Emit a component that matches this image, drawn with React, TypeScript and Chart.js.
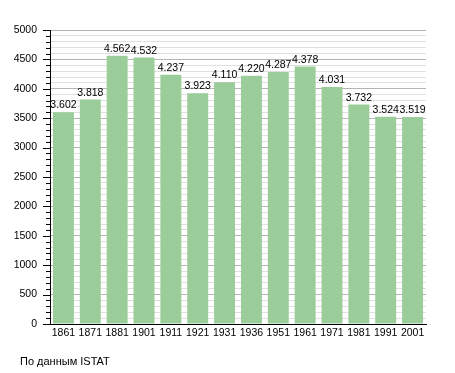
import React, { useEffect, useRef } from "react";
import { Chart, registerables } from "chart.js";

Chart.register(...registerables);

const categories = ["1861", "1871", "1881", "1901", "1911", "1921", "1931", "1936", "1951", "1961", "1971", "1981", "1991", "2001"];
const population = [3602, 3818, 4562, 4532, 4237, 3923, 4110, 4220, 4287, 4378, 4031, 3732, 3524, 3519];
const yMax = 5000;
const yStep = 100;
const yLabelStep = 500;
const sourceText = "По данным ISTAT";

const FONT = "'Liberation Sans', Arial, sans-serif";

function fmt(v: number): string {
  const th = Math.floor(v / 1000);
  const rest = String(v % 1000).padStart(3, "0");
  return th > 0 ? th + "." + rest : String(v);
}

const extrasPlugin = {
  id: "extras",
  afterDatasetsDraw(chart: any) {
    const ctx = chart.ctx;
    const meta = chart.getDatasetMeta(0);
    ctx.save();
    ctx.fillStyle = "#000";
    ctx.font = "10.5px " + FONT;
    ctx.textAlign = "center";
    ctx.textBaseline = "alphabetic";
    meta.data.forEach((bar: any, i: number) => {
      ctx.fillText(fmt(population[i]), bar.x, bar.y - 4);
    });
    ctx.restore();
  },
  afterDraw(chart: any) {
    const ctx = chart.ctx;
    const y = chart.scales.y;
    const left = chart.chartArea.left;
    ctx.save();
    ctx.strokeStyle = "#000";
    ctx.lineWidth = 1;
    for (let v = 0; v <= yMax; v += yStep) {
      const py = Math.round(y.getPixelForValue(v)) + 0.5;
      const len = v % yLabelStep === 0 ? 7 : 4;
      ctx.beginPath();
      ctx.moveTo(left - len, py);
      ctx.lineTo(left, py);
      ctx.stroke();
    }
    ctx.restore();
  },
};

export default function App() {
  const ref = useRef<HTMLCanvasElement | null>(null);
  useEffect(() => {
    if (!ref.current) return;
    const chart = new Chart(ref.current, {
      type: "bar",
      data: {
        labels: categories,
        datasets: [
          {
            data: population,
            backgroundColor: "#9acd9a",
            borderWidth: 0,
            barPercentage: 0.78,
            categoryPercentage: 1,
          },
        ],
      },
      options: {
        responsive: false,
        animation: false,
        devicePixelRatio: 1,
        layout: { padding: { top: 30, right: 29, left: 0, bottom: 29 } },
        plugins: {
          legend: { display: false },
          tooltip: { enabled: false },
          title: { display: false },
        },
        scales: {
          x: {
            grid: { display: false, drawTicks: false },
            border: { color: "#000", width: 1 },
            ticks: {
              color: "#000",
              font: { family: FONT, size: 10.5 },
              padding: 3,
              maxRotation: 0,
              autoSkip: false,
            },
            afterFit(scale: any) {
              scale.height = 20;
            },
          },
          y: {
            min: 0,
            max: yMax,
            border: { color: "#000", width: 1 },
            grid: {
              drawTicks: false,
              color: (c: any) => {
                const v = c.tick ? c.tick.value : 0;
                return v % yLabelStep === 0 ? "#b4b4b4" : "#e0e0e0";
              },
            },
            ticks: {
              stepSize: yStep,
              autoSkip: false,
              color: "#000",
              font: { family: FONT, size: 10.5 },
              padding: 13,
              callback: (v: any) => (Number(v) % yLabelStep === 0 ? String(v) : ""),
            },
            afterFit(scale: any) {
              scale.width = 50;
            },
          },
        },
      },
      plugins: [extrasPlugin],
    });
    return () => chart.destroy();
  }, []);

  return (
    <div style={{ position: "absolute", left: 0, top: 0, width: 455, height: 373, background: "#fff" }}>
      <canvas ref={ref} width={455} height={373} style={{ display: "block" }} />
      <div
        style={{
          position: "absolute",
          left: 20,
          top: 355,
          fontFamily: FONT,
          fontSize: 11,
          color: "#000",
          whiteSpace: "pre",
        }}
      >
        {sourceText}
      </div>
    </div>
  );
}
